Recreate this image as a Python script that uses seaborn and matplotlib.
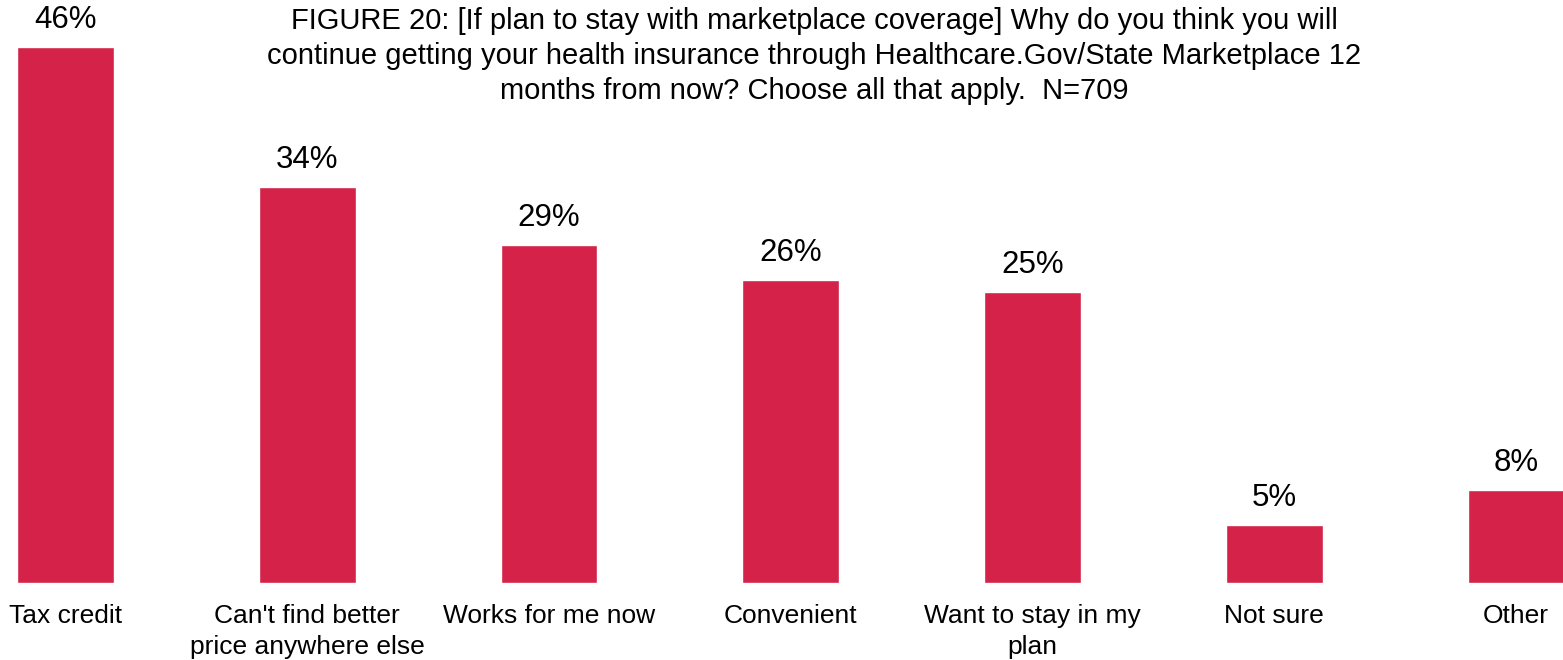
import matplotlib
matplotlib.use("Agg")
import matplotlib.pyplot as plt
import seaborn as sns
import pandas as pd

categories = [
    "Tax credit",
    "Can't find better\nprice anywhere else",
    "Works for me now",
    "Convenient",
    "Want to stay in my\nplan",
    "Not sure",
    "Other",
]
values = [46, 34, 29, 26, 25, 5, 8]
title = ("FIGURE 20: [If plan to stay with marketplace coverage] Why do you think you will\n"
         "continue getting your health insurance through Healthcare.Gov/State Marketplace 12\n"
         "months from now? Choose all that apply.  N=709")

sns.set_style("white")
plt.rcParams["font.family"] = ["Liberation Sans", "DejaVu Sans"]

df = pd.DataFrame({"reason": categories, "pct": values})

fig = plt.figure(figsize=(15.63, 6.6), dpi=100)
ax = fig.add_axes([0.0, 77 / 660, 1.0, 583 / 660])

sns.barplot(data=df, x="reason", y="pct", color="#D42249", saturation=1,
            width=0.4, ax=ax)

ax.set_xlim(-0.271, 6.194)
ax.set_ylim(0, 50)
ax.set_xlabel("")
ax.set_ylabel("")
ax.set_yticks([])
for s in ax.spines.values():
    s.set_visible(False)
ax.tick_params(axis="x", length=0, pad=15, labelsize=19, labelcolor="black")
for lbl in ax.get_xticklabels():
    lbl.set_linespacing(1.4)

for i, v in enumerate(values):
    ax.annotate(f"{v}%", (i, v), xytext=(0, 13.5), textcoords="offset points",
                ha="center", va="baseline", fontsize=22.5, color="black")

fig.text(0.521, 0.99, title, ha="center", va="top", fontsize=21,
         linespacing=1.32, color="black")

fig.savefig("out.png", dpi=100, facecolor="white")
